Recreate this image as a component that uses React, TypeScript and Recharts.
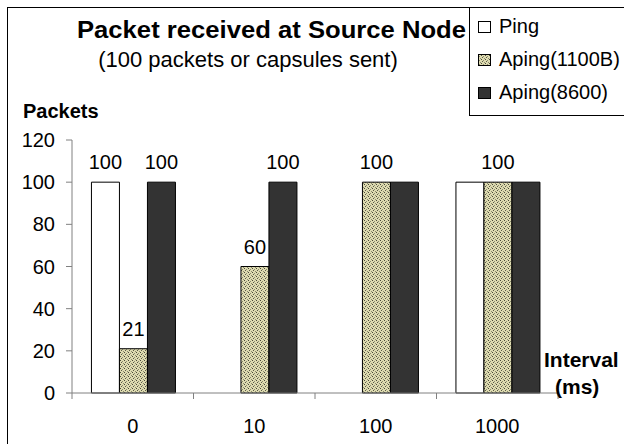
import React from "react";
import { BarChart, Bar, XAxis, YAxis, Legend, LabelList } from "recharts";

const categories = ["0", "10", "100", "1000"];
const ping = [100, null, null, 100];
const aping1100 = [21, 60, 100, 100];
const aping8600 = [100, 100, 100, 100];
// Excel only shows some of the value labels
const pingLabels = [100, null, null, null];
const aping1100Labels = [21, 60, 100, 100];
const aping8600Labels = [100, 100, null, null];
const yTicks = [0, 20, 40, 60, 80, 100, 120];

const seriesNames = ["Ping", "Aping(1100B)", "Aping(8600)"];
const seriesFills = ["#ffffff", "url(#aping1100Pattern)", "#333333"];

const data = categories.map((c, i) => ({
  interval: c,
  ping: ping[i],
  aping1100: aping1100[i],
  aping8600: aping8600[i],
  pingLabel: pingLabels[i],
  aping1100Label: aping1100Labels[i],
  aping8600Label: aping8600Labels[i],
}));

const W = 624;
const H = 444;
const PLOT_LEFT = 72;
const PLOT_RIGHT = 558;
const HALF_BAND = (PLOT_RIGHT - PLOT_LEFT) / categories.length / 2;
const FONT = "'Liberation Sans', Arial, sans-serif";
const AXIS = "#808080";

function XTick(props: any) {
  const { x, y, payload, index } = props;
  return (
    <g>
      <line x1={x - HALF_BAND} x2={x - HALF_BAND} y1={y} y2={y + 6} stroke={AXIS} />
      {index === categories.length - 1 && (
        <line x1={x + HALF_BAND} x2={x + HALF_BAND} y1={y} y2={y + 6} stroke={AXIS} />
      )}
      <text x={x} y={y + 40} textAnchor="middle" fontSize={20} fill="#000">
        {payload.value}
      </text>
    </g>
  );
}

// legend keeps the series order (recharts would sort it by name)
function renderLegend() {
  return (
    <svg width={160} height={112} style={{ display: "block" }}>
      <rect x={0.5} y={0.5} width={170} height={108} fill="#fff" stroke="#000" />
      {seriesNames.map((name, i) => (
        <g key={name}>
          <rect x={9.5} y={14.5 + i * 33} width={12} height={11} fill={seriesFills[i]} stroke="#000" />
          <text x={30} y={26 + i * 33} fontSize={20} fill="#000">
            {name}
          </text>
        </g>
      ))}
    </svg>
  );
}

export default function App() {
  return (
    <div
      style={{
        position: "absolute",
        left: 0,
        top: 0,
        width: W,
        height: H,
        overflow: "hidden",
        background: "#fff",
        fontFamily: FONT,
      }}
    >
      <BarChart
        width={W}
        height={H}
        data={data}
        margin={{ top: 140, right: W - PLOT_RIGHT, bottom: 0, left: 0 }}
        barCategoryGap="16%"
        barGap={0}
      >
        <defs>
          <pattern id="aping1100Pattern" width={4} height={4} patternUnits="userSpaceOnUse">
            <rect width={4} height={4} fill="#dedbb0" />
            <rect x={0} y={0} width={1} height={1} fill="#4a4a3a" />
            <rect x={2} y={1} width={1} height={1} fill="#8a8a70" />
            <rect x={1} y={2} width={1} height={1} fill="#5a5a48" />
            <rect x={3} y={3} width={1} height={1} fill="#8a8a70" />
          </pattern>
        </defs>
        <XAxis
          dataKey="interval"
          height={H - 393}
          tickLine={false}
          tickSize={0}
          tickMargin={0}
          axisLine={{ stroke: AXIS }}
          tick={<XTick />}
          interval={0}
        />
        <YAxis
          width={PLOT_LEFT}
          domain={[0, 120]}
          ticks={yTicks}
          tickSize={6}
          tickMargin={11}
          axisLine={{ stroke: AXIS }}
          tickLine={{ stroke: AXIS }}
          tick={{ fontSize: 20, fill: "#000" }}
        />
        <Legend
          layout="vertical"
          align="center"
          verticalAlign="middle"
          content={renderLegend}
          wrapperStyle={{ left: 469, top: 7, width: 160, height: 112 }}
        />
        <Bar dataKey="ping" name={seriesNames[0]} fill={seriesFills[0]} stroke="#000" isAnimationActive={false}>
          <LabelList dataKey="pingLabel" position="top" offset={13} fill="#000" fontSize={20} />
        </Bar>
        <Bar
          dataKey="aping1100"
          name={seriesNames[1]}
          fill={seriesFills[1]}
          stroke="#000"
          isAnimationActive={false}
        >
          <LabelList dataKey="aping1100Label" position="top" offset={13} fill="#000" fontSize={20} />
        </Bar>
        <Bar dataKey="aping8600" name={seriesNames[2]} fill={seriesFills[2]} stroke="#000" isAnimationActive={false}>
          <LabelList dataKey="aping8600Label" position="top" offset={13} fill="#000" fontSize={20} />
        </Bar>
      </BarChart>
      <svg
        width={W}
        height={H}
        style={{ position: "absolute", left: 0, top: 0, pointerEvents: "none" }}
      >
        <line x1={7.5} x2={7.5} y1={7} y2={H} stroke="#000" />
        <line x1={7} x2={W} y1={7.5} y2={7.5} stroke="#000" />
        <text x={271.5} y={38} textAnchor="middle" fontSize={23} fontWeight="bold" textLength={389} lengthAdjust="spacingAndGlyphs">
          Packet received at Source Node
        </text>
        <text x={248} y={67} textAnchor="middle" fontSize={22}>
          (100 packets or capsules sent)
        </text>
        <text x={23} y={118} fontSize={20} fontWeight="bold">
          Packets
        </text>
        <text x={544} y={367} fontSize={21} fontWeight="bold">
          Interval
        </text>
        <text x={555} y={394} fontSize={21} fontWeight="bold">
          (ms)
        </text>
      </svg>
    </div>
  );
}
